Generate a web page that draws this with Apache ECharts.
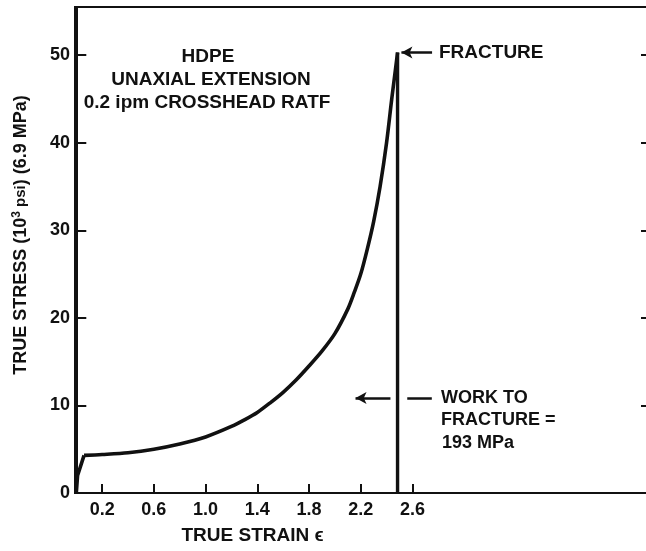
<!DOCTYPE html>
<html>
<head>
<meta charset="utf-8">
<script src="https://cdn.jsdelivr.net/npm/echarts@6/dist/echarts.min.js"></script>
<style>html,body{margin:0;padding:0;background:#fff;}#c{width:646px;height:551px;}</style>
</head>
<body>
<div id="c"></div>
<script>
// True strain / true stress (10^3 psi)
var strain = [0, 0.01, 0.06, 0.2, 0.4, 0.6, 0.8, 1.0, 1.2, 1.3, 1.4, 1.5, 1.6, 1.7, 1.8, 1.9, 2.0, 2.1, 2.15, 2.2, 2.25, 2.3, 2.35, 2.4, 2.44, 2.47, 2.485, 2.485];
var stress = [0, 2.0, 4.3, 4.4, 4.6, 5.0, 5.6, 6.4, 7.6, 8.35, 9.2, 10.3, 11.5, 12.9, 14.5, 16.2, 18.2, 21.0, 22.9, 25.0, 27.8, 31.0, 35.0, 40.0, 45.0, 48.5, 50.3, 0];
var xTickLabels = [0.2, 0.6, 1.0, 1.4, 1.8, 2.2, 2.6];
var fractureArrow = [[2.752, 50.3], [2.515, 50.3]];
var workArrowLeft = [[2.43, 10.85], [2.16, 10.85]];
var workDash = [[2.56, 10.85], [2.75, 10.85]];

var FONT = '"Liberation Sans", Arial, Helvetica, sans-serif';
var INK = '#111';

var chart = echarts.init(document.getElementById('c'), null, {renderer: 'canvas'});
var curve = strain.map(function (s, i) { return [s, stress[i]]; });
// split: initial elastic rise (straight), smooth hardening curve, vertical fracture drop
var rise = curve.slice(0, 3);
var hardening = curve.slice(2, curve.length - 1);
var drop = curve.slice(curve.length - 2);

function seg(p, arrow) {
  var a = {coord: p[0]}, b = {coord: p[1]};
  if (arrow) { b.symbol = 'arrow'; b.symbolSize = [9, 11]; }
  return [a, b];
}
var lineBase = {type: 'line', showSymbol: false, symbol: 'none', lineStyle: {color: INK, width: 3.6}, z: 3};

chart.setOption({
  animation: false,
  backgroundColor: '#fff',
  grid: {left: 75, width: 574, top: 7, bottom: 58, outerBoundsMode: 'none', containLabel: false,
    show: true, borderColor: INK, borderWidth: 2},
  xAxis: {
    type: 'value', min: -0.01, max: 4.43,
    splitLine: {show: false},
    axisLine: {show: true, onZero: false, lineStyle: {color: INK, width: 2}},
    axisTick: {show: true, inside: true, length: 9, lineStyle: {color: INK, width: 2}, customValues: xTickLabels},
    axisLabel: {
      color: INK, fontFamily: FONT, fontWeight: 'bold', fontSize: 18, margin: 8,
      customValues: xTickLabels,
      formatter: function (v) { return v.toFixed(1); }
    },
    name: 'TRUE STRAIN \u03f5', nameLocation: 'middle', nameGap: 33,
    nameTextStyle: {color: INK, fontFamily: FONT, fontWeight: 'bold', fontSize: 19, padding: [0, 219, 0, 0]}
  },
  yAxis: [{
    type: 'value', min: 0, max: 55.5, interval: 10, position: 'left',
    splitLine: {show: false},
    axisLine: {show: true, lineStyle: {color: INK, width: 2}},
    axisTick: {show: true, inside: true, length: 10, lineStyle: {color: INK, width: 2}},
    axisLabel: {color: INK, fontFamily: FONT, fontWeight: 'bold', fontSize: 18, margin: 5,
      formatter: function (v) { return v > 50 ? '' : String(v); }},
    name: '{a|TRUE STRESS (10}{s|3}{p| psi}{a|) (6.9 MPa)}',
    nameLocation: 'middle', nameGap: 44,
    nameTextStyle: {
      color: INK, fontFamily: FONT, fontWeight: 'bold', fontSize: 18, padding: [0, 0, 0, 30],
      rich: {
        a: {color: INK, fontFamily: FONT, fontWeight: 'bold', fontSize: 18},
        s: {color: INK, fontFamily: FONT, fontWeight: 'bold', fontSize: 12, verticalAlign: 'top', padding: [0, 0, 8, 0]},
        p: {color: INK, fontFamily: FONT, fontWeight: 'bold', fontSize: 15}
      }
    }
  }, {
    type: 'value', min: 0, max: 55.5, interval: 10, position: 'right',
    splitLine: {show: false},
    axisLine: {show: true, lineStyle: {color: INK, width: 2}},
    axisTick: {show: true, inside: true, length: 8, lineStyle: {color: INK, width: 2}},
    axisLabel: {show: false}
  }],
  series: [
    Object.assign({}, lineBase, {data: rise, smooth: false}),
    Object.assign({}, lineBase, {data: hardening, smooth: 0.3}),
    Object.assign({}, lineBase, {data: drop, smooth: false, lineStyle: {color: INK, width: 3.4},
      markLine: {
        silent: true, animation: false,
        symbol: ['none', 'none'],
        lineStyle: {color: INK, width: 2.5, type: 'solid'},
        label: {show: false},
        data: [seg(fractureArrow, true), seg(workArrowLeft, true), seg(workDash, false)]
      }})
  ],
  graphic: [
    {type: 'text', x: 208, y: 57, style: {text: 'HDPE', fill: INK, font: 'bold 19px ' + FONT, textAlign: 'center', textVerticalAlign: 'middle'}},
    {type: 'text', x: 211, y: 80, style: {text: 'UNAXIAL EXTENSION', fill: INK, font: 'bold 19px ' + FONT, textAlign: 'center', textVerticalAlign: 'middle'}},
    {type: 'text', x: 207, y: 103, style: {text: '0.2 ipm CROSSHEAD RATF', fill: INK, font: 'bold 19px ' + FONT, textAlign: 'center', textVerticalAlign: 'middle'}},
    {type: 'text', x: 439, y: 53, style: {text: 'FRACTURE', fill: INK, font: 'bold 19px ' + FONT, textAlign: 'left', textVerticalAlign: 'middle'}},
    {type: 'text', x: 441, y: 398, style: {text: 'WORK TO', fill: INK, font: 'bold 18px ' + FONT, textAlign: 'left', textVerticalAlign: 'middle'}},
    {type: 'text', x: 441, y: 420, style: {text: 'FRACTURE =', fill: INK, font: 'bold 18px ' + FONT, textAlign: 'left', textVerticalAlign: 'middle'}},
    {type: 'text', x: 442, y: 443, style: {text: '193 MPa', fill: INK, font: 'bold 18px ' + FONT, textAlign: 'left', textVerticalAlign: 'middle'}}
  ]
});
</script>
</body>
</html>
